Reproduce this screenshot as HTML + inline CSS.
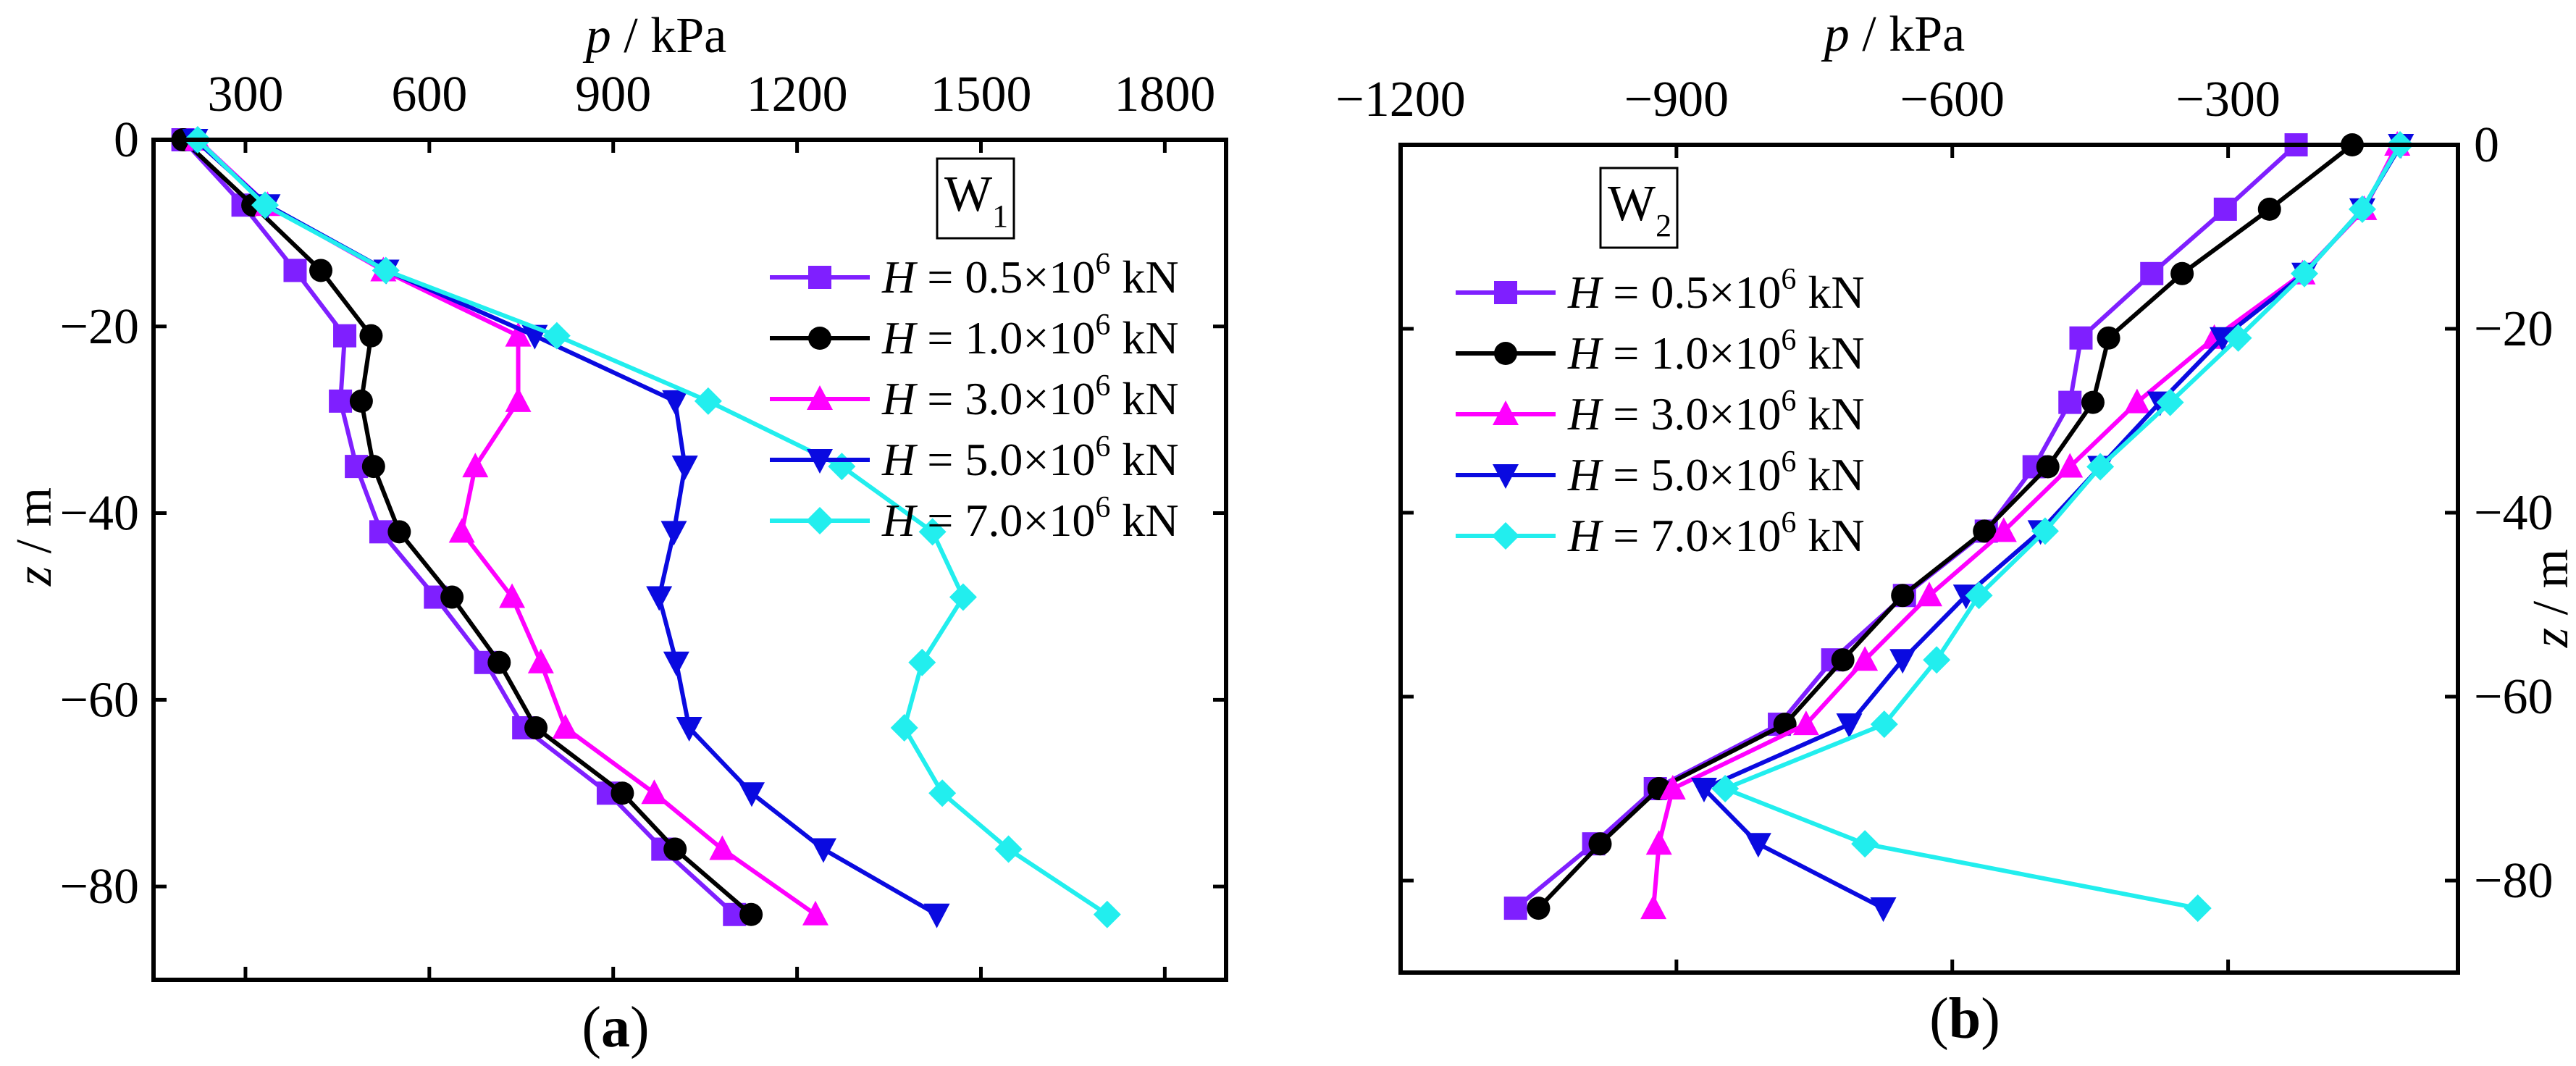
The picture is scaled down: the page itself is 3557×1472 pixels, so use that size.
<!DOCTYPE html>
<html><head><meta charset="utf-8"><style>
html,body{margin:0;padding:0;background:#fff;}
svg{display:block;font-family:"Liberation Serif",serif;}
</style></head><body>
<svg id="fig" width="3557" height="1472" viewBox="0 0 3557 1472" xmlns="http://www.w3.org/2000/svg">
<g id="ga"></g>
<g id="gb"></g>
</svg>
<script>
// shared depth values
const depthZ = [0,-7,-14,-21,-28,-35,-42,-49,-56,-63,-70,-76,-83];
const seriesLabels = ["0.5","1.0","3.0","5.0","7.0"];
const seriesColors = ["#7f1fff","#000000","#ff00ff","#0a0ae0","#22eeee"];
const seriesMarkers = ["square","circle","triangle","tridown","diamond"];
// chart (a) W1
const aP05 = [198,296,381,462,455,481,521,610,692,754,892,981,1098];
const aP10 = [198,312,423,505,489,509,551,637,714,774,915,1001,1125];
const aP30 = [222,336,525,745,745,675,653,735,782,822,967,1078,1230];
const aP50 = [218,336,530,772,1001,1017,999,975,1003,1024,1126,1243,1428];
const aP70 = [222,332,529,808,1055,1273,1421,1471,1404,1375,1437,1545,1706];
const aXTicks = [300,600,900,1200,1500,1800];
// chart (b) W2
const bP05 = [-226,-303,-383,-460,-472,-511,-563,-652,-730,-788,-923,-990,-1075];
const bP10 = [-165,-255,-350,-430,-447,-496,-565,-654,-719,-782,-919,-983,-1050];
const bP30 = [-116,-152,-219,-315,-399,-472,-544,-625,-695,-759,-904,-919,-925];
const bP50 = [-112,-154,-217,-306,-374,-439,-504,-585,-654,-712,-870,-811,-675];
const bP70 = [-113,-154,-217,-289,-363,-439,-499,-571,-617,-674,-847,-695,-333];
const bXTicks = [-1200,-900,-600,-300];
const zTicks = [0,-20,-40,-60,-80];

const NS="http://www.w3.org/2000/svg";
function mk(parent,tag,attrs){const e=document.createElementNS(NS,tag);for(const k in attrs)e.setAttribute(k,attrs[k]);parent.appendChild(e);return e;}
function marker(g,type,x,y,c){
  let e;const s=16;
  if(type==="square")e=mk(g,"rect",{x:x-s,y:y-s,width:2*s,height:2*s,fill:c});
  else if(type==="circle")e=mk(g,"circle",{cx:x,cy:y,r:s,fill:c});
  else if(type==="triangle")e=mk(g,"polygon",{points:`${x},${y-s-3} ${x-s-2},${y+s-1} ${x+s+2},${y+s-1}`,fill:c});
  else if(type==="tridown")e=mk(g,"polygon",{points:`${x},${y+s+3} ${x-s-2},${y-s+1} ${x+s+2},${y-s+1}`,fill:c});
  else e=mk(g,"polygon",{points:`${x},${y-s-3} ${x+s+3},${y} ${x},${y+s+3} ${x-s-3},${y}`,fill:c});
  return e;
}
function label(g,txt,x,y,anchor,size,extra){
  const t=mk(g,"text",Object.assign({x:x,y:y,"text-anchor":anchor,"font-size":size,fill:"#000"},extra||{}));
  t.innerHTML=txt;return t;
}
function drawChart(g,cfg){
  const X=p=>cfg.L+(p-cfg.xmin)/(cfg.xmax-cfg.xmin)*(cfg.R-cfg.L);
  const Y=z=>cfg.T+(0-z)/90*(cfg.B-cfg.T);
  cfg.xticks.forEach(v=>{
    const x=X(v);
    const t1=mk(g,"line",{x1:x,y1:cfg.T,x2:x,y2:cfg.T+18,stroke:"#000","stroke-width":5});
    
    
    mk(g,"line",{x1:x,y1:cfg.B,x2:x,y2:cfg.B-18,stroke:"#000","stroke-width":5});
    const l=label(g,v<0?"\u2212"+(-v):String(v),x,cfg.T-40,"middle",70);
    
    
  });
  zTicks.forEach(v=>{
    const y=Y(v);
    mk(g,"line",{x1:cfg.L,y1:y,x2:cfg.L+18,y2:y,stroke:"#000","stroke-width":5});
    mk(g,"line",{x1:cfg.R,y1:y,x2:cfg.R-18,y2:y,stroke:"#000","stroke-width":5});
    const txt=v<0?"\u2212"+(-v):String(v);
    const l=cfg.yRight?label(g,txt,cfg.R+22,y+23,"start",70):label(g,txt,cfg.L-20,y+23,"end",70);
    
    
  });
  cfg.series.forEach((ps,i)=>{
    const sg=mk(g,"g",{});
    
    
    const pts=ps.map((p,j)=>X(p)+","+Y(depthZ[j])).join(" ");
    mk(sg,"polyline",{points:pts,fill:"none",stroke:seriesColors[i],"stroke-width":6,"stroke-linejoin":"round"});
    ps.forEach((p,j)=>{
      const m=marker(sg,seriesMarkers[i],X(p),Y(depthZ[j]),seriesColors[i]);
      
      
    });
  });
  const f=mk(g,"rect",{x:cfg.L,y:cfg.T,width:cfg.R-cfg.L,height:cfg.B-cfg.T,fill:"none",stroke:"#000","stroke-width":6});
  
  
  const lg=mk(g,"g",{});
  
  
  const wb=mk(lg,"rect",{x:cfg.wx,y:cfg.wy,width:106,height:110,fill:"#fff",stroke:"#000","stroke-width":3});
  
  
  label(lg,cfg.wname+'<tspan font-size="44" dy="22">'+cfg.wsub+'</tspan>',cfg.wx+10,cfg.wy+72,"start",70);
  seriesLabels.forEach((s,i)=>{
    const y=cfg.ly+i*84;
    const e=mk(lg,"g",{});
    
    
    mk(e,"line",{x1:cfg.lx,y1:y,x2:cfg.lx+138,y2:y,stroke:seriesColors[i],"stroke-width":6});
    marker(e,seriesMarkers[i],cfg.lx+69,y,seriesColors[i]);
    label(e,'<tspan font-style="italic">H</tspan> = '+s+'×10<tspan font-size="42" dy="-26">6</tspan><tspan dy="26"> kN</tspan>',cfg.lx+155,y+21,"start",64);
  });
  const xt=label(g,'<tspan font-style="italic">p</tspan> / kPa',cfg.xtx,cfg.xty,"middle",70);
  
  
  const yt=label(g,'<tspan font-style="italic">z</tspan> / m',0,0,"middle",70,{transform:`translate(${cfg.ytx},${cfg.yty}) rotate(-90)`});
  
  
  const cap=label(g,'(<tspan font-weight="bold">'+cfg.cap+'</tspan>)',cfg.capx,cfg.capy,"middle",80);
  
  
}
drawChart(document.getElementById('ga'),{L:212,R:1693,T:193,B:1353,xmin:150,xmax:1900,xticks:aXTicks,
  series:[aP05,aP10,aP30,aP50,aP70],yRight:false,wx:1294,wy:219,wname:"W",wsub:"1",lx:1063,ly:383,
  xtx:906,xty:72,ytx:70,yty:741,cap:"a",capx:850,capy:1445});
drawChart(document.getElementById('gb'),{L:1934,R:3394,T:200,B:1343,xmin:-1200,xmax:-50,xticks:bXTicks,
  series:[bP05,bP10,bP30,bP50,bP70],yRight:true,wx:2210,wy:232,wname:"W",wsub:"2",lx:2010,ly:404,
  xtx:2616,xty:70,ytx:3545,yty:826,cap:"b",capx:2713,capy:1433});
</script>
</body></html>
